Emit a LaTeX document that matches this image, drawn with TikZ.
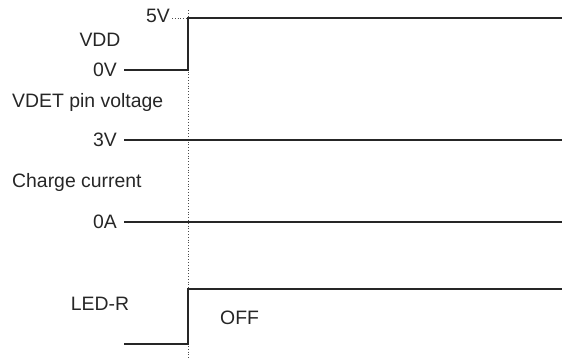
\documentclass[tikz,border=0pt]{standalone}
\usepackage{fontspec}
\setmainfont{Liberation Sans}
\begin{document}
\begin{tikzpicture}[x=1pt,y=-1pt,
  sig/.style={line width=2.5pt, color=black!85},
  guide/.style={line width=0.8pt, dotted, color=black!70},
  lbl/.style={font=\fontsize{19.4}{21}\selectfont, inner sep=0pt, text=black!85}]
\useasboundingbox (0,0) rectangle (564,359);
% labels
\node[lbl, anchor=east] (v5) at (170,16) {5V};
\node[lbl] (vdd) at (100,40) {VDD};
\node[lbl, anchor=east] (v0) at (117,70) {0V};
\node[lbl, anchor=west] (vdet) at (12,102) {VDET pin voltage};
\node[lbl, anchor=east] (v3) at (117,140) {3V};
\node[lbl, anchor=west] (chg) at (12,182) {Charge current};
\node[lbl, anchor=east] (a0) at (117,222) {0A};
\node[lbl] (led) at (100,304) {LED-R};
\node[lbl, anchor=west] (off) at (220,318) {OFF};
% coordinates
\coordinate (gtop) at (188,10);
\coordinate (gbot) at (188,359);
\coordinate (v5e) at (172,18);
\coordinate (v5g) at (188,18);
\coordinate (vddL) at (124,70);
\coordinate (vddM) at (188,70);
\coordinate (vddR) at (562,18);
\coordinate (v3L) at (124,140);
\coordinate (v3R) at (562,140);
\coordinate (a0L) at (124,222);
\coordinate (a0R) at (562,222);
\coordinate (ledL) at (124,344);
\coordinate (ledM) at (188,344);
\coordinate (ledR) at (562,289);
% guides
\draw[guide] (gtop) -- (gbot);
\draw[guide] (v5e) -- (v5g);
% signals
\draw[sig] (vddL) -- (vddM) |- (vddR);
\draw[sig] (v3L) -- (v3R);
\draw[sig] (a0L) -- (a0R);
\draw[sig] (ledL) -- (ledM) |- (ledR);
\end{tikzpicture}
\end{document}
